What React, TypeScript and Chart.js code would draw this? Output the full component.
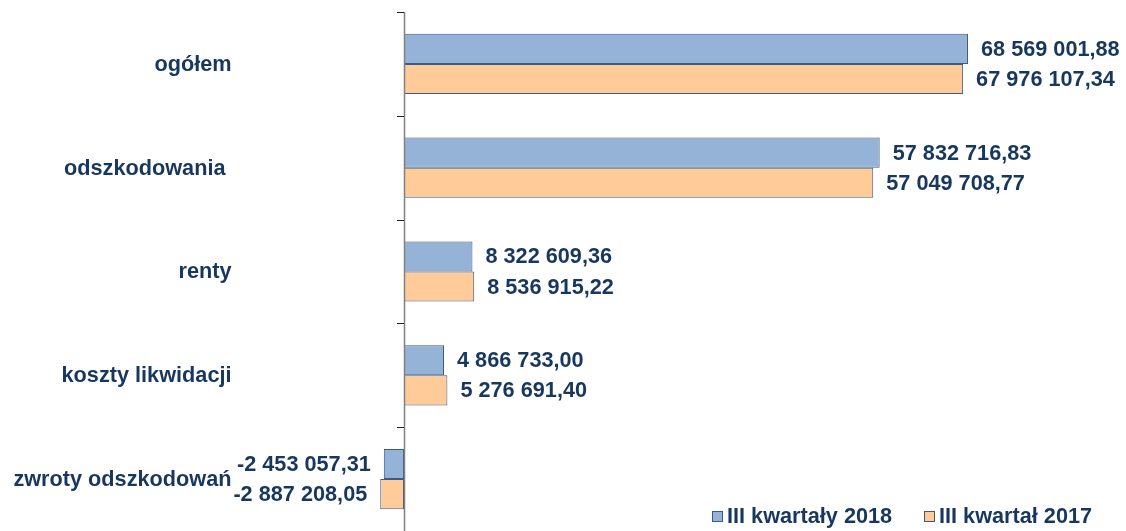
import React, { useEffect, useRef } from "react";
import { Chart, registerables } from "chart.js";

Chart.register(...registerables);

const categories = ["ogółem", "odszkodowania ", "renty", "koszty likwidacji", "zwroty odszkodowań"];
const series2018 = [68569001.88, 57832716.83, 8322609.36, 4866733.0, -2453057.31];
const series2017 = [67976107.34, 57049708.77, 8536915.22, 5276691.4, -2887208.05];
const seriesNames = ["III kwartały 2018", "III kwartał 2017"];

const TEXT = "#17375E";
const BLUE = "#95B3D7";
const ORANGE = "#FFCC99";
const BORDER = "#3D5A80";
const FONT = "'Liberation Sans', Arial, sans-serif";
const FONT_SIZE = 21.7;

function fmt(v: number): string {
  const neg = v < 0;
  const a = Math.abs(v).toFixed(2);
  const [i, d] = a.split(".");
  const ip = i.replace(/\B(?=(\d{3})+(?!\d))/g, " ");
  return (neg ? "-" : "") + ip + "," + d;
}

const decorPlugin = {
  id: "decor",
  afterDatasetsDraw(chart: any) {
    const ctx = chart.ctx;
    const xs = chart.scales.x;
    const ys = chart.scales.y;
    const area = chart.chartArea;
    const x0 = Math.round(xs.getPixelForValue(0));
    ctx.save();
    // axis line
    ctx.strokeStyle = "#808080";
    ctx.lineWidth = 1.5;
    ctx.beginPath();
    ctx.moveTo(x0 + 0.5, area.top);
    ctx.lineTo(x0 + 0.5, area.bottom + 2);
    ctx.stroke();
    // tick marks
    ctx.strokeStyle = "#222";
    ctx.lineWidth = 1;
    const n = categories.length;
    const band = (area.bottom - area.top) / n;
    for (let i = 0; i <= n; i++) {
      const y = Math.round(area.top + i * band) + 0.5;
      ctx.beginPath();
      ctx.moveTo(x0 - 7, y);
      ctx.lineTo(x0, y);
      ctx.stroke();
    }
    ctx.font = `bold ${FONT_SIZE}px ${FONT}`;
    ctx.fillStyle = TEXT;
    ctx.textBaseline = "middle";
    // category labels
    ctx.textAlign = "right";
    categories.forEach((c, i) => {
      ctx.fillText(c, area.left - 8, ys.getPixelForValue(i) + 1);
    });
    // value labels
    chart.data.datasets.forEach((ds: any, di: number) => {
      const meta = chart.getDatasetMeta(di);
      meta.data.forEach((bar: any, i: number) => {
        const v = ds.data[i];
        const txt = fmt(v);
        if (v >= 0) {
          ctx.textAlign = "left";
          ctx.fillText(txt, bar.x + 13, bar.y + 1);
        } else {
          ctx.textAlign = "right";
          ctx.fillText(txt, bar.x - 13, bar.y + 1);
        }
      });
    });
    // legend
    const items = [
      { x: 712, color: BLUE, label: seriesNames[0] },
      { x: 924, color: ORANGE, label: seriesNames[1] },
    ];
    items.forEach((it) => {
      ctx.fillStyle = it.color;
      ctx.fillRect(it.x, 511, 11, 11);
      ctx.strokeStyle = BORDER;
      ctx.lineWidth = 1;
      ctx.strokeRect(it.x + 0.5, 511.5, 10, 10);
      ctx.fillStyle = TEXT;
      ctx.textAlign = "left";
      ctx.textBaseline = "middle";
      ctx.fillText(it.label, it.x + 15, 517);
    });
    ctx.restore();
  },
};

export default function App() {
  const ref = useRef<HTMLCanvasElement>(null);
  useEffect(() => {
    if (!ref.current) return;
    const chart = new Chart(ref.current, {
      type: "bar",
      data: {
        labels: categories,
        datasets: [
          {
            label: seriesNames[0],
            data: series2018,
            backgroundColor: BLUE,
            borderColor: BORDER,
            borderWidth: 1,
            borderSkipped: false,
          },
          {
            label: seriesNames[1],
            data: series2017,
            backgroundColor: ORANGE,
            borderColor: BORDER,
            borderWidth: 1,
            borderSkipped: false,
          },
        ],
      },
      options: {
        indexAxis: "y",
        animation: false,
        responsive: false,
        maintainAspectRatio: false,
        layout: { padding: { top: 12, right: 64, bottom: 0, left: 0 } },
        datasets: { bar: { categoryPercentage: 0.58, barPercentage: 1 } },
        plugins: { legend: { display: false }, tooltip: { enabled: false } },
        scales: {
          x: { type: "linear", min: -20000000, max: 80000000, display: false },
          y: {
            type: "category",
            grid: { display: false, drawTicks: false },
            border: { display: false },
            ticks: { display: false },
            afterFit: (scale: any) => {
              scale.width = 239.5;
              scale.paddingTop = 0;
              scale.paddingBottom = 0;
            },
          },
        },
      } as any,
      plugins: [decorPlugin],
    });
    return () => chart.destroy();
  }, []);
  return (
    <div style={{ position: "absolute", left: 0, top: 0, width: 1126, height: 531, background: "#fff" }}>
      <canvas ref={ref} width={1126} height={531} />
    </div>
  );
}
